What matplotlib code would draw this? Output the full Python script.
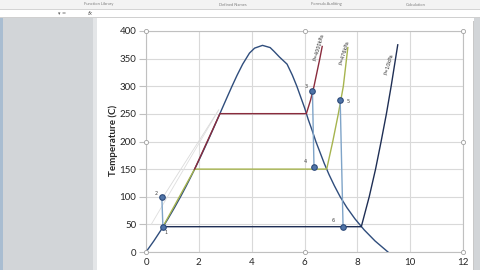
import matplotlib
matplotlib.use("Agg")
import matplotlib.pyplot as plt
from matplotlib.patches import Rectangle

# saturation dome (entropy kJ/kg.K, temperature C)
dome_s = [0.0, 0.297, 0.572, 0.831, 1.075, 1.307, 1.528, 1.739, 1.943, 2.139, 2.331, 2.518,
          2.702, 2.885, 3.069, 3.255, 3.449, 3.660, 3.917, 4.111, 4.41, 4.70, 4.85, 5.05,
          5.34, 5.54, 5.71, 5.86, 6.01, 6.14, 6.29, 6.43, 6.59, 6.75, 6.93, 7.13, 7.35,
          7.61, 7.91, 8.26, 8.67, 9.16]
dome_T = [0, 20, 40, 60, 80, 100, 120, 140, 160, 180, 200, 220, 240, 260, 280, 300, 320,
          340, 360, 369, 374, 370, 363, 353, 340, 320, 300, 280, 260, 240, 220, 200, 180,
          160, 140, 120, 100, 80, 60, 40, 20, 0]

# isobars
p10_s = [0.64, 8.15, 8.45, 8.69, 8.90, 9.10, 9.28, 9.53]
p10_T = [45.8, 45.8, 100, 150, 200, 250, 300, 375]
p476_s = [0.64, 1.84, 6.84, 7.07, 7.28, 7.47, 7.64]
p476_T = [45.8, 150, 150, 200, 250, 300, 370]
p4000_s = [1.84, 2.80, 6.07, 6.23, 6.36, 6.58, 6.67]
p4000_T = [150, 250.4, 250.4, 275, 300, 350, 372]

# faint helper lines
guide_a_s = [0.64, 2.75]
guide_a_T = [99, 257]
guide_b_s = [0.2, 2.75]
guide_b_T = [50, 257]

# cycle state points
state_labels = ["1", "2", "3", "4", "5", "6"]
state_s = [0.64, 0.60, 6.30, 6.36, 7.35, 7.46]
state_T = [45, 99, 292, 153, 276, 45]

isobar_labels = ["P=4000kPa", "P=476kPa", "P=10kPa"]

W, H = 480, 270


def px(x, y):
    return x / W, 1 - y / H


fig = plt.figure(figsize=(4.8, 2.7), dpi=100)
fig.patch.set_facecolor("white")


# excel window chrome
def rect(x0, y0, x1, y1, color, z=0):
    fx, fy = px(x0, y1)
    fig.add_artist(Rectangle((fx, fy), (x1 - x0) / W, (y1 - y0) / H,
                             transform=fig.transFigure, facecolor=color,
                             edgecolor="none", zorder=z))


rect(0, 0, 480, 9, "#f3f3f3")
rect(0, 9, 480, 9.6, "#d4d4d4")
rect(0, 17.5, 480, 18.2, "#d0d0d0")
rect(0, 18.2, 93, 270, "#d2d5d8")
rect(0, 18.2, 2.5, 270, "#a9bdd1")
rect(93, 18.2, 97, 270, "#e4e6e8")
rect(474, 18.2, 480, 270, "#d2d5d8")
rect(97, 20.5, 474, 21.2, "#c8c8c8")
rect(473.3, 20.5, 474, 270, "#c8c8c8")

for lbl, x in [("Function Library", 99), ("Defined Names", 233),
               ("Formula Auditing", 326), ("Calculation", 416)]:
    fig.text(*px(x, 4.5), lbl, fontsize=3, color="#808080", ha="center", va="center",
             family="Lato")
fig.text(*px(62, 13.5), "\u25be =", fontsize=3.5, color="#606060", ha="center", va="center")
fig.text(*px(90, 13.5), "fx", fontsize=4, color="#606060", ha="center", va="center",
         style="italic")

ax = fig.add_axes([146 / W, 18 / H, 317 / W, 221 / H])
ax.set_xlim(0, 12)
ax.set_ylim(0, 400)
ax.set_xticks(range(0, 13, 2))
ax.set_yticks(range(0, 401, 50))
ax.grid(True, color="#d9d9d9", lw=0.8)
ax.set_axisbelow(True)
for sp in ax.spines.values():
    sp.set_color("#c0c0c0")
    sp.set_linewidth(0.8)
ax.tick_params(axis="y", length=5, color="#c0c0c0", pad=2, labelsize=7)
ax.tick_params(axis="x", length=0, pad=4, labelsize=7)
for t in ax.get_xticklabels() + ax.get_yticklabels():
    t.set_family("Lato")
    t.set_color("#262626")

fig.text(*px(113, 140), "Temperature (C)", rotation=90, fontsize=7, fontweight="bold",
         family="Lato", ha="center", va="center", color="#262626")

ax.plot(guide_a_s, guide_a_T, color="#dadada", lw=0.6, zorder=2)
ax.plot(guide_b_s, guide_b_T, color="#dedede", lw=0.6, zorder=2)
ax.plot(dome_s, dome_T, color="#2f4d7c", lw=1.0, zorder=3)
ax.plot(p476_s, p476_T, color="#a6b44e", lw=1.0, zorder=4)
ax.plot(p4000_s, p4000_T, color="#8a2c3d", lw=1.0, zorder=4)
ax.plot(p10_s, p10_T, color="#1f2f55", lw=1.0, zorder=4)

# cycle legs
for i, j in [(0, 1), (2, 3), (4, 5)]:
    ax.plot([state_s[i], state_s[j]], [state_T[i], state_T[j]], color="#7fa4c8",
            lw=1.0, zorder=5)
ax.plot(state_s, state_T, "o", ls="none", ms=4, mfc="#4f74a8", mec="#2c4a7a",
        mew=0.8, zorder=6)

label_off = [(0.11, -10), (-0.22, 6), (-0.24, 8), (-0.34, 10), (0.3, -4), (-0.38, 12)]
for lbl, s, t, (dx, dy) in zip(state_labels, state_s, state_T, label_off):
    ax.text(s + dx, t + dy, lbl, fontsize=3.5, color="#404040", ha="center", va="center",
            zorder=7)

for lbl, s, t in zip(isobar_labels, [6.55, 7.5, 9.2], [371, 361, 340]):
    ax.text(s, t, lbl, fontsize=3.5, color="#303030", rotation=74, ha="center",
            va="center", zorder=7)

# plot area selection handles
ax.plot([0, 0.5, 1, 1, 1, 0.5, 0, 0], [1, 1, 1, 0.5, 0, 0, 0, 0.5], "o", ls="none",
        transform=ax.transAxes, clip_on=False, ms=3, mfc="white", mec="#a0a0a0",
        mew=0.6, zorder=10)

fig.savefig("out.png", dpi=100)
